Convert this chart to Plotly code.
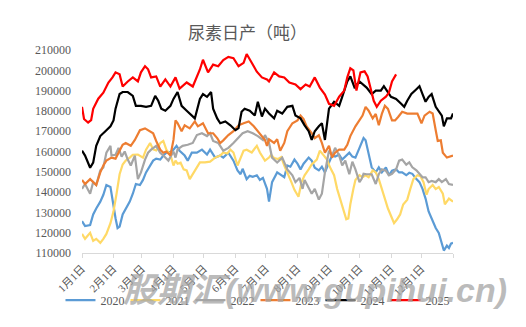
import plotly.graph_objects as go

# ---- data (day of year, value) ----
tick_days = [1, 32, 60, 91, 121, 152, 182, 213, 244, 274, 305, 335, 366]
tick_text = ["1月1日", "2月1日", "3月1日", "4月1日", "5月1日", "6月1日", "7月1日",
             "8月1日", "9月1日", "10月1日", "11月1日", "12月1日", ""]

d2020 = [1, 4, 9, 12, 15, 19, 22, 25, 29, 30, 32, 34, 36, 38, 41, 44, 48, 51, 54, 58,
         61, 64, 68, 71, 74, 78, 81, 84, 88, 91, 94, 97, 102, 105, 109, 114, 119, 124, 127, 132,
         137, 140, 145, 150, 154, 157, 159, 163, 166, 169, 173, 176, 179, 183, 185, 188, 193, 196, 200, 203,
         206, 210, 213, 216, 219, 224, 227, 230, 234, 237, 240, 244, 247, 250, 254, 257, 260, 264, 267, 270,
         274, 276, 278, 280, 283, 286, 290, 293, 296, 300, 303, 306, 310, 313, 316, 320, 323, 326, 330, 333,
         336, 339, 342, 345, 349, 352, 354, 357, 360, 362, 364, 366]
v2020 = [125700, 123300, 123800, 129000, 131900, 135300, 138700, 143500, 142500, 139200,
         132900, 127100, 122300, 123000, 129000, 131500, 135300, 139200, 144000, 143500,
         146000, 149700, 153100, 155500, 156500, 156000, 158000, 159400, 159800, 160900,
         162800, 160400, 158000, 155500, 159400, 159400, 160900, 158500, 160900, 157000,
         158000, 157000, 159400, 155500, 150700, 148800, 151500, 146400, 148000, 147500,
         148300, 146000, 147000, 141600, 135300, 144900, 149700, 148500, 147300, 153100,
         152500, 156000, 154000, 151200, 154000, 157000, 155500, 152000, 150700, 152500,
         149700, 154600, 158000, 157500, 158400, 156000, 157500, 159400, 157500, 157000,
         161800, 164000, 166600, 165500, 159400, 152200, 149700, 152200, 149700, 152200,
         148300, 150500, 151200, 149700, 149700, 148300, 149500, 149000, 146400, 144900,
         141600, 136800, 130500, 127100, 122300, 119900, 116000, 111200, 113600, 112500,
         114600, 115000]

d2021 = [1, 4, 9, 12, 15, 19, 22, 25, 29, 32, 35, 37, 38, 41, 44, 48, 51, 56, 61, 64,
         68, 71, 74, 78, 81, 84, 88, 91, 93, 95, 98, 101, 104, 107, 110, 114, 117, 122, 127, 132,
         137, 140, 144, 147, 150, 154, 157, 160, 163, 168, 173, 176, 181, 185, 187, 190, 194, 197, 200, 204,
         207, 210, 214, 217, 220, 224, 227, 232, 235, 239, 242, 245, 249, 252, 255, 259, 261, 263, 265, 268,
         270, 274, 277, 280, 283, 287, 290, 293, 296, 299, 302, 306, 308, 311, 314, 317, 321, 324, 327, 331,
         334, 337, 340, 342, 346, 349, 352, 356, 358, 362, 366]
v2021 = [119400, 117000, 119900, 116000, 117000, 115000, 117000, 119400, 124700, 130500,
         139200, 144900, 148800, 153600, 155500, 157000, 158400, 158500, 157000, 160900,
         164200, 161000, 160500, 164200, 165200, 160900, 158400, 153100, 155500, 154000,
         154500, 151200, 150700, 146400, 148800, 152200, 154600, 154600, 155000, 157000,
         158000, 159500, 159000, 160900, 159500, 153100, 157000, 160400, 160900, 159500,
         162800, 159500, 155500, 157000, 158400, 156800, 156300, 157200, 153100, 148800,
         144900, 141100, 137700, 144900, 148300, 151200, 153600, 156000, 160400, 158000,
         156000, 152200, 148300, 141600, 136800, 130500, 126600, 127000, 134000, 141600,
         146000, 148300, 147300, 148300, 147300, 150700, 149700, 146400, 141600, 136800,
         131900, 127100, 124700, 126600, 129000, 133900, 136300, 141600, 146400, 148300,
         147800, 144900, 138700, 141500, 143500, 141500, 142500, 139200, 134000, 136800,
         135300]

d2022 = [1, 4, 9, 12, 15, 19, 22, 25, 29, 30, 34, 37, 40, 43, 46, 49, 53, 56, 59, 63,
         66, 69, 74, 78, 81, 86, 91, 93, 95, 100, 105, 110, 114, 119, 124, 127, 130, 135, 140, 145,
         150, 155, 159, 164, 169, 174, 179, 181, 185, 188, 193, 198, 203, 208, 211, 215, 218, 220, 224, 227,
         230, 234, 237, 240, 244, 247, 250, 254, 257, 260, 264, 267, 270, 274, 276, 278, 281, 286, 290, 293,
         296, 300, 303, 306, 310, 313, 316, 320, 323, 326, 330, 333, 336, 339, 342, 345, 349, 352, 355, 359,
         362, 366]
v2022 = [141600, 144000, 139200, 144900, 143500, 150700, 152200, 159400, 162800, 158000,
         158400, 161800, 157500, 160000, 156000, 153100, 158000, 146400, 149700, 156000,
         159400, 160900, 162800, 159400, 158000, 155500, 160000, 157000, 161000, 162800,
         163300, 164200, 168100, 169000, 167600, 169000, 165200, 164200, 160400, 161800,
         164200, 166600, 169000, 170000, 169000, 167600, 165700, 168100, 164200, 157000,
         154600, 157000, 151200, 148300, 144900, 147000, 141600, 146000, 142500, 139200,
         141600, 136300, 139200, 149700, 160400, 158000, 161800, 158000, 153100, 155500,
         148800, 155000, 151200, 144900, 146400, 149000, 148800, 148800, 144000, 148800,
         151200, 150500, 148300, 149000, 151200, 155500, 156000, 153500, 154600, 152200,
         150700, 149000, 147300, 147300, 144900, 145500, 144900, 146400, 144900, 146400,
         144000, 143500]

d2023 = [1, 4, 9, 12, 15, 19, 22, 25, 30, 34, 37, 41, 44, 49, 53, 58, 63, 68, 71, 74,
         78, 81, 84, 88, 91, 93, 95, 99, 102, 107, 112, 115, 120, 125, 130, 134, 137, 140, 145, 150,
         155, 160, 165, 170, 174, 178, 181, 183, 185, 190, 193, 196, 200, 203, 208, 213, 216, 219, 222, 227,
         230, 234, 237, 240, 244, 247, 250, 254, 259, 262, 265, 270, 274, 277, 280, 283, 287, 290, 293, 296,
         299, 302, 306, 309, 312, 316, 321, 326, 331, 335, 338, 343, 346, 349, 351, 354, 356, 360, 363, 366]
v2023 = [146000, 144000, 146400, 145000, 143500, 149700, 153100, 155500, 157000, 156500,
         159400, 163300, 164200, 162800, 165700, 170500, 171400, 170000, 169000, 165200,
         160900, 159400, 160000, 158000, 165700, 175300, 174000, 170000, 172900, 171400,
         174800, 172400, 173900, 169000, 169000, 166600, 164200, 165500, 168100, 170000,
         172900, 173900, 174800, 172400, 170000, 167500, 165700, 162800, 166000, 164200,
         166000, 160400, 164200, 170000, 173900, 175300, 177700, 176000, 172400, 169000,
         166600, 168000, 164200, 159400, 162800, 157000, 159400, 160900, 160900, 163300,
         167600, 172400, 175300, 177700, 182000, 180100, 176300, 178500, 172900, 178500,
         182500, 181000, 175300, 175300, 177000, 179600, 178700, 178700, 178700, 173900,
         177700, 179600, 178700, 170500, 165200, 165500, 159400, 157000, 157500, 158000]

d2024 = [1, 4, 9, 12, 15, 19, 24, 29, 32, 34, 38, 41, 46, 51, 54, 59, 64, 69, 73, 76,
         79, 83, 88, 91, 95, 99, 104, 109, 112, 117, 120, 124, 128, 130, 134, 137, 142, 147, 152, 155,
         158, 161, 166, 171, 174, 178, 181, 185, 190, 193, 198, 203, 208, 211, 216, 220, 224, 227, 230, 234,
         237, 240, 244, 249, 254, 257, 262, 265, 269, 274, 277, 281, 286, 290, 295, 298, 305, 310, 315, 318,
         321, 325, 330, 333, 336, 339, 342, 345, 349, 352, 355, 357, 360, 364, 366]
v2024 = [160400, 158000, 152000, 154500, 162800, 167600, 170000, 172400, 175300, 181100,
         188300, 189300, 189300, 187400, 182500, 182500, 182000, 182500, 187400, 185000,
         181100, 180100, 182500, 185900, 189300, 182500, 180100, 177700, 176300, 185900,
         188300, 186900, 189300, 181100, 176300, 173900, 174800, 172900, 170500, 171500,
         179600, 181100, 180100, 177700, 184500, 177200, 181100, 178700, 176300, 180100,
         178700, 182000, 182500, 177700, 176300, 172900, 170000, 165700, 170000, 172400,
         173900, 165700, 181100, 184500, 182500, 186900, 194500, 197000, 191700, 194500,
         193000, 191500, 188300, 190000, 190000, 192200, 186900, 185900, 183500, 182000,
         185000, 188300, 190700, 192200, 188300, 184500, 186900, 188300, 182000, 180100,
         177700, 172400, 176300, 176300, 178700]

d2025 = [1, 3, 7, 10, 12, 17, 22, 27, 31, 34, 38, 41, 46, 51, 56, 59, 63, 66, 69, 74,
         78, 83, 88, 93, 97, 104, 110, 117, 120, 125, 130, 135, 140, 145, 150, 155, 160, 163, 168, 173,
         178, 183, 185, 190, 195, 200, 205, 211, 216, 221, 225, 230, 235, 240, 244, 249, 254, 259, 262, 265,
         268, 271, 275, 279, 282, 285, 288, 291, 295, 300, 303, 306, 310]
v2025 = [182000, 176000, 174300, 175500, 181000, 186000, 189000, 194000, 196500, 199000,
         198000, 192000, 194500, 196500, 194500, 199000, 202000, 200500, 196500, 197000,
         192000, 195500, 192000, 196500, 191000, 194000, 192000, 200400, 205200, 199000,
         202800, 202000, 205000, 206600, 206000, 202000, 203700, 208000, 203700, 199300,
         196500, 195500, 194500, 199000, 197000, 196500, 194000, 193000, 190700, 193000,
         192000, 196500, 191500, 188000, 183500, 182500, 187000, 190000, 196500, 201000,
         200000, 190000, 199000, 199500, 197000, 191500, 185000, 182000, 185000, 187000,
         189000, 194500, 198000]

series = [
    ("2020", d2020, v2020, "#5B9BD5"),
    ("2021", d2021, v2021, "#FFD966"),
    ("2022", d2022, v2022, "#A5A5A5"),
    ("2023", d2023, v2023, "#ED7D31"),
    ("2024", d2024, v2024, "#000000"),
    ("2025", d2025, v2025, "#FF0000"),
]

fig = go.Figure()
for name, xs, ys, col in series:
    fig.add_trace(go.Scatter(x=xs, y=ys, mode="lines", name=name,
                             line=dict(color=col, width=2.2)))

serif = "Liberation Serif, Noto Sans CJK SC, serif"
fig.update_layout(
    width=526, height=327,
    margin=dict(l=82, r=73, t=50, b=70),
    paper_bgcolor="white", plot_bgcolor="white",
    title=dict(text="尿素日产（吨）", x=0.446, xref="paper", xanchor="center",
               y=1 - 33 / 327, yref="container", yanchor="middle",
               font=dict(family="Noto Sans CJK SC", size=17, color="#595959")),
    showlegend=True,
    legend=dict(orientation="h", x=-0.058, xanchor="left", y=-0.232, yanchor="middle",
                font=dict(family=serif, size=12, color="#595959"),
                entrywidth=20, entrywidthmode="pixels",
                bgcolor="rgba(0,0,0,0)"),
)
fig.update_yaxes(range=[110000, 210000], dtick=10000, tick0=110000,
                 showgrid=False, zeroline=False, showline=False,
                 tickformat="d", ticklabelstandoff=10,
                 tickfont=dict(family=serif, size=12, color="#595959"))
fig.update_xaxes(range=[1, 366], tickmode="array", tickvals=tick_days, ticktext=tick_text,
                 tickangle=-45, ticks="outside", ticklen=4, tickcolor="#D9D9D9",
                 showline=True, linecolor="#D9D9D9", linewidth=1,
                 showgrid=False, zeroline=False,
                 tickfont=dict(family=serif, size=11, color="#595959"))

fig.add_annotation(text="股期汇(www.gupihui.cn)", xref="paper", yref="paper",
                   x=0.105, y=-0.184, xanchor="left", yanchor="middle", showarrow=False,
                   font=dict(family="Liberation Sans, Noto Sans CJK SC", size=34,
                             color="rgba(165,165,165,0.75)", weight="bold", style="italic"))

fig.write_html("out.html")
